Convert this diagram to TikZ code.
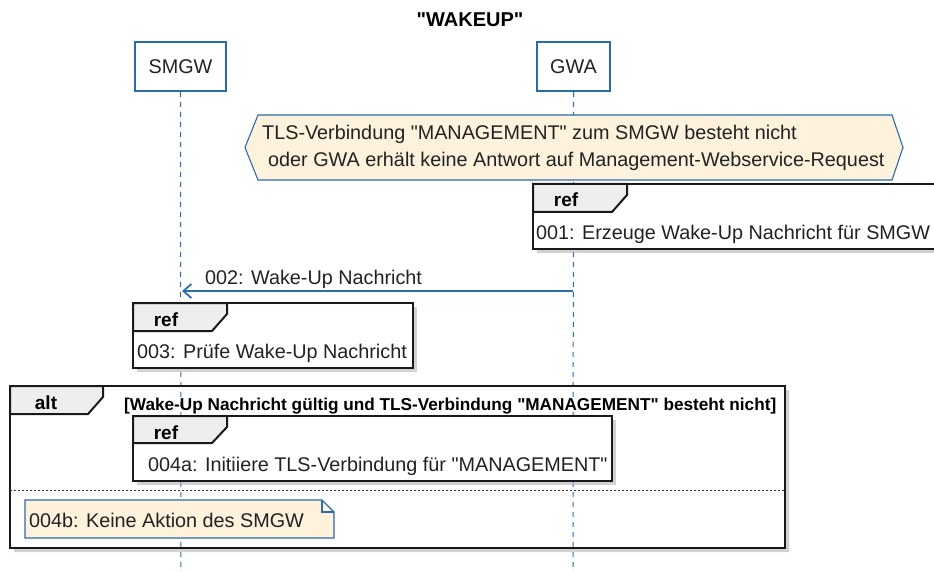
\documentclass[tikz,border=0pt]{standalone}
\usepackage{fontspec}
\setmainfont{Liberation Sans}[Ligatures=TeXOff]
\usetikzlibrary{arrows.meta}
\definecolor{pblue}{HTML}{2A6BAA}
\definecolor{notefill}{HTML}{FEF2DC}
\definecolor{tabfill}{HTML}{EEEEEE}
\definecolor{txtcol}{HTML}{222222}
\tikzset{
  txt/.style={inner sep=0pt, anchor=base west, font=\fontsize{19.8}{23}\selectfont, text=txtcol},
  boldtxt/.style={inner sep=0pt, anchor=base, font=\bfseries\fontsize{19}{23}\selectfont, text=black},
  condtxt/.style={inner sep=0pt, anchor=base west, font=\bfseries\fontsize{17.2}{21}\selectfont, text=black},
  actor/.style={draw=pblue, line width=1.8pt, fill=white, minimum width=91pt, minimum height=49pt, inner sep=0pt, font=\fontsize{19.8}{23}\selectfont, text=txtcol},
  lifeline/.style={draw=pblue, line width=1pt, dash pattern=on 5pt off 5pt},
  frm/.style={draw=black!90, line width=2pt},
  shadowfill/.style={fill=black!35, opacity=0.5},
  msg/.style={draw=pblue, line width=1.3pt, -{Straight Barb[length=8pt,width=14pt,line width=1.8pt]}},
  notebox/.style={draw=pblue, line width=1.1pt, fill=notefill}
}
\newcommand{\umlframe}[6]{%
  \fill[shadowfill] (#1+4,#2+4) rectangle (#3+4,#4+4);
  \draw[frm, fill=white] (#1,#2) rectangle (#3,#4);
  \draw[frm, fill=tabfill] (#1,#2) -- (#5,#2) -- (#5,#2+11) -- (#5-15,#6) -- (#1,#6) -- cycle;
}
\begin{document}
\begin{tikzpicture}[x=1pt,y=-1pt]
\useasboundingbox (0,0) rectangle (934,572);
\clip (0,0) rectangle (934,572);

% title
\node[boldtxt, font=\bfseries\fontsize{20}{24}\selectfont] (title) at (470,27) {"WAKEUP"};

% actors
\node[actor] (smgw) at (180.5,66.5) {SMGW};
\node[actor, minimum width=73pt] (gwa) at (573.5,66.5) {GWA};
\coordinate (smgwend) at (181,575);
\coordinate (gwaend) at (573,575);
\draw[lifeline] (smgw.south) -- (smgwend);
\draw[lifeline] (gwa.south) -- (gwaend);

% alt frame (no fill)
\fill[shadowfill] (14,390) -- (789,390) -- (789,552) -- (14,552) -- (14,548) -- (785,548) -- (785,390) -- cycle;
\draw[frm] (10,386) rectangle (785,548);
\draw[frm, fill=tabfill] (10,386) -- (103,386) -- (103,397) -- (88,414) -- (10,414) -- cycle;
\node[boldtxt] (altlbl) at (46,409) {alt};
\node[condtxt] (cond) at (124,410) {[Wake-Up Nachricht gültig und TLS-Verbindung "MANAGEMENT" besteht nicht]};
\draw[black!80, line width=1pt, dash pattern=on 2pt off 2pt] (10,490) -- (785,490);

% hexagon
\draw[notebox] (245,147.5) -- (258,115) -- (892,115) -- (903,147.5) -- (892,180) -- (258,180) -- cycle;
\node[txt] (hex1) at (262,140) {TLS-Verbindung "MANAGEMENT" zum SMGW besteht nicht};
\node[txt] (hex2) at (268,167) {oder GWA erhält keine Antwort auf Management-Webservice-Request};

% ref 001
\umlframe{533}{184}{945}{249}{627}{212}
\node[boldtxt] (ref1) at (566,207) {ref};
\node[txt] (r1) at (536,239) {001: Erzeuge Wake-Up Nachricht für SMGW};

% message 002
\coordinate (m2s) at (573,291);
\coordinate (m2e) at (182,291);
\draw[msg] (m2s) -- (m2e);
\node[txt] (m2lbl) at (205,284) {002: Wake-Up Nachricht};

% ref 003
\umlframe{133}{303}{413}{368}{227}{331}
\node[boldtxt] (ref3) at (166,326) {ref};
\node[txt] (r3) at (137,358) {003: Prüfe Wake-Up Nachricht};

% ref 004a
\umlframe{133}{416}{612}{481}{227}{443}
\node[boldtxt] (ref4) at (166,439) {ref};
\node[txt] (r4) at (148,471) {004a: Initiiere TLS-Verbindung für "MANAGEMENT"};

% note 004b
\draw[notebox] (25,500) -- (322,500) -- (334,512) -- (334,538) -- (25,538) -- cycle;
\draw[pblue, line width=1.1pt] (322,500) -- (322,512) -- (334,512);
\node[txt] (n4) at (29,527) {004b: Keine Aktion des SMGW};

\end{tikzpicture}
\end{document}
